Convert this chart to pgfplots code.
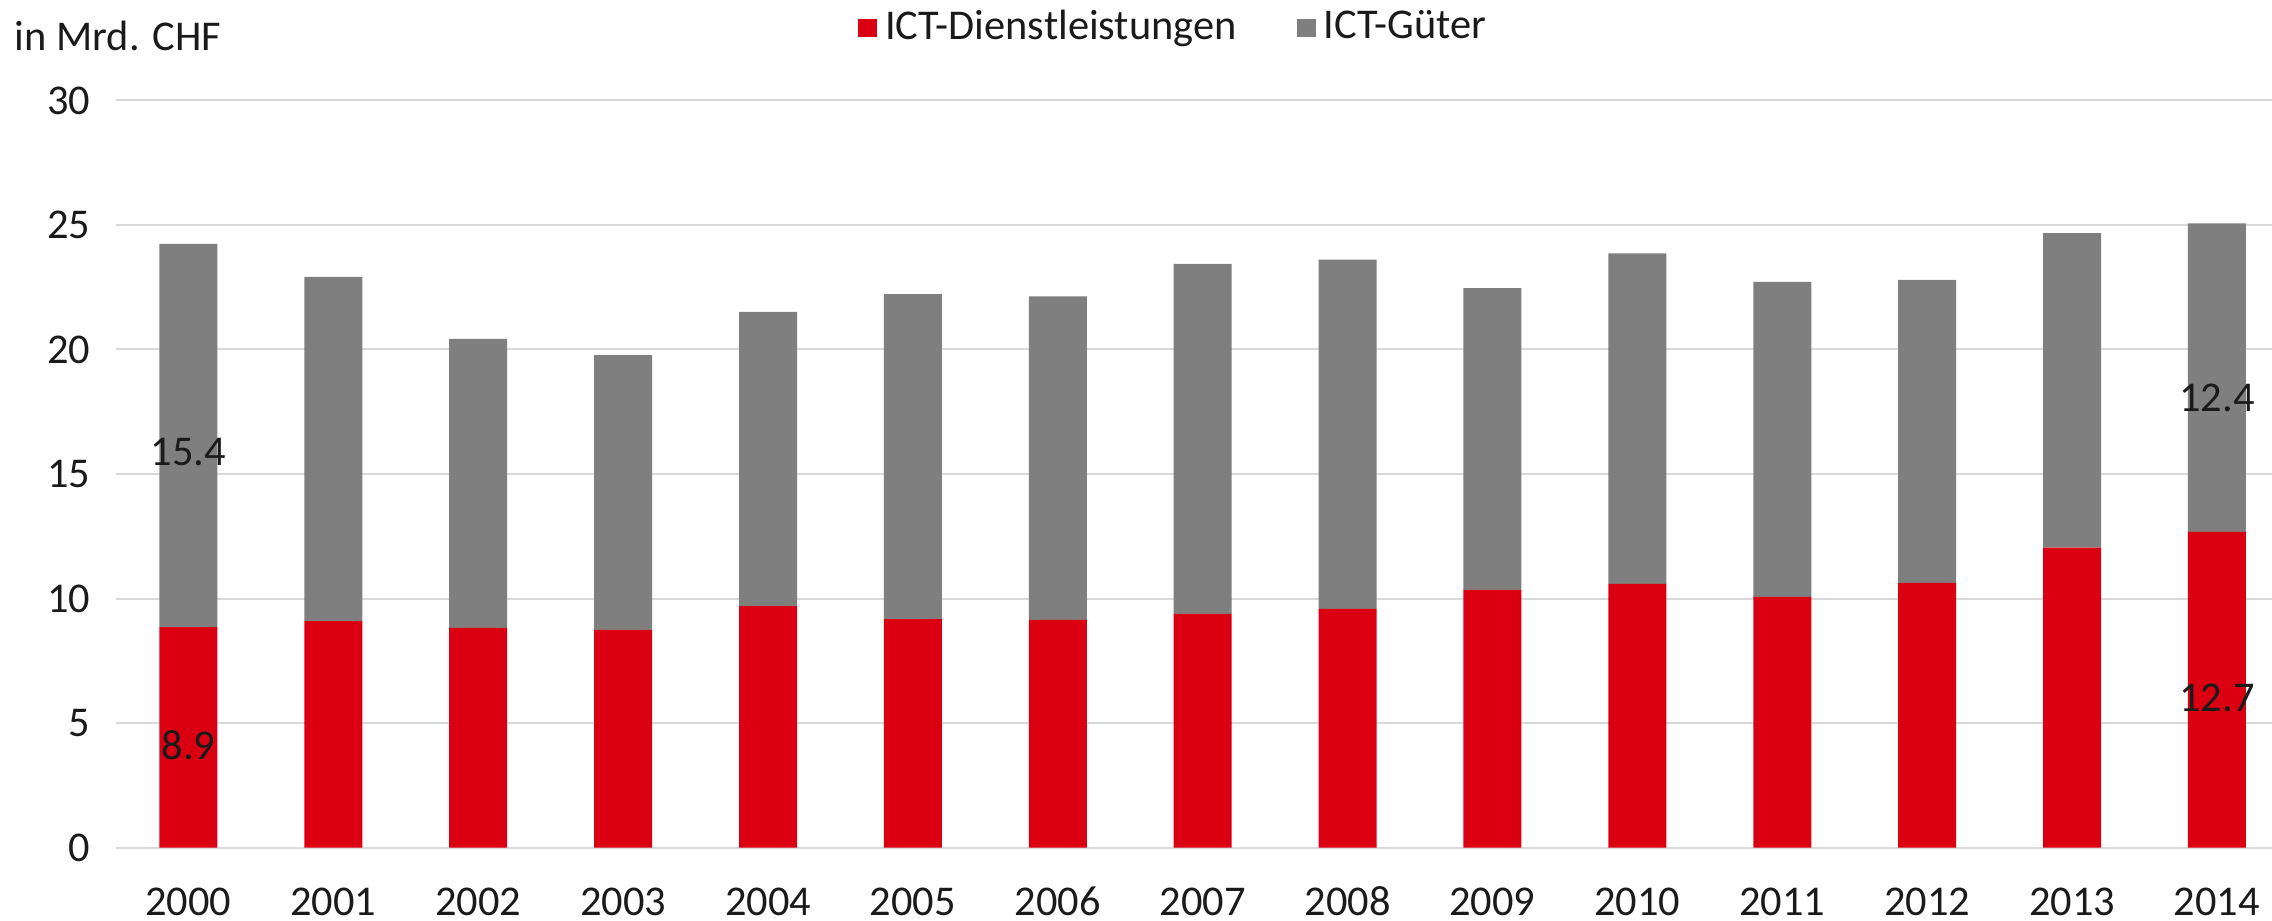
\documentclass[border=0pt]{standalone}
\usepackage{fontspec}
\setmainfont{Carlito}
\usepackage{pgfplots}
\pgfplotsset{compat=1.18}
\definecolor{ictred}{HTML}{DB0011}
\definecolor{ictgray}{HTML}{7F7F7F}
\definecolor{gridgray}{HTML}{D9D9D9}
\definecolor{txt}{HTML}{1A1A1A}
\newcommand{\chartfont}{\fontsize{10.6}{12.7}\selectfont}

\begin{document}
\begin{tikzpicture}[x=1pt,y=1pt]
\useasboundingbox (-29,-18.35) rectangle (539,211.9);
\begin{axis}[at={(0,0)},anchor=south west,scale only axis,
 width=539pt,height=186.8pt,
 ybar stacked,bar width=14.5pt,
 xmin=-0.5,xmax=14.38,ymin=0,ymax=30,
 xtick=data,
 xticklabels={2000,2001,2002,2003,2004,2005,2006,2007,2008,2009,2010,2011,2012,2013,2014},
 ytick={0,5,...,30},
 /pgf/number format/assume math mode=true,
 ymajorgrids,grid style={gridgray,line width=0.5pt},
 axis line style={draw=none},major tick length=0pt,
 tick label style={font=\chartfont,text=txt},
 xticklabel style={anchor=base,yshift=-17pt},
 yticklabel style={anchor=east,inner sep=0pt,xshift=-6.25pt},
 legend columns=2,
 legend style={at={(0.4917,1.097)},anchor=center,draw=none,fill=none,
  inner sep=0pt,font=\chartfont,text=txt,
  /tikz/every even column/.append style={column sep=13pt}},
 legend image code/.code={\fill[#1] (0pt,-2.35pt) rectangle (4.75pt,2.35pt);},
 clip=false]
\addplot[fill=ictred,draw=none] coordinates {
 (0,8.85) (1,9.09) (2,8.82) (3,8.74) (4,9.70) (5,9.17) (6,9.14) (7,9.38)
 (8,9.58) (9,10.35) (10,10.59) (11,10.07) (12,10.63) (13,12.04) (14,12.68)};
\addlegendentry{ICT-Dienstleistungen}
\addplot[fill=ictgray,draw=none] coordinates {
 (0,15.39) (1,13.82) (2,11.61) (3,11.03) (4,11.81) (5,13.05) (6,12.99) (7,14.06)
 (8,14.03) (9,12.11) (10,13.27) (11,12.64) (12,12.16) (13,12.63) (14,12.38)};
\addlegendentry{ICT-Güter}
\coordinate (g0) at (axis cs:0,15.88);
\coordinate (r0) at (axis cs:0,4.12);
\coordinate (g14) at (axis cs:14,18.07);
\coordinate (r14) at (axis cs:14,6.0);
\end{axis}
\begin{scope}[every node/.style={font=\chartfont,text=txt,inner sep=0pt}]
\node at (g0) {15.4};
\node at (r0) {8.9};
\node at (g14) {12.4};
\node at (r14) {12.7};
\end{scope}
\node[font=\chartfont,text=txt,anchor=base west,inner sep=0pt] at (-25.5,199.2) {in Mrd. CHF};
\end{tikzpicture}
\end{document}
